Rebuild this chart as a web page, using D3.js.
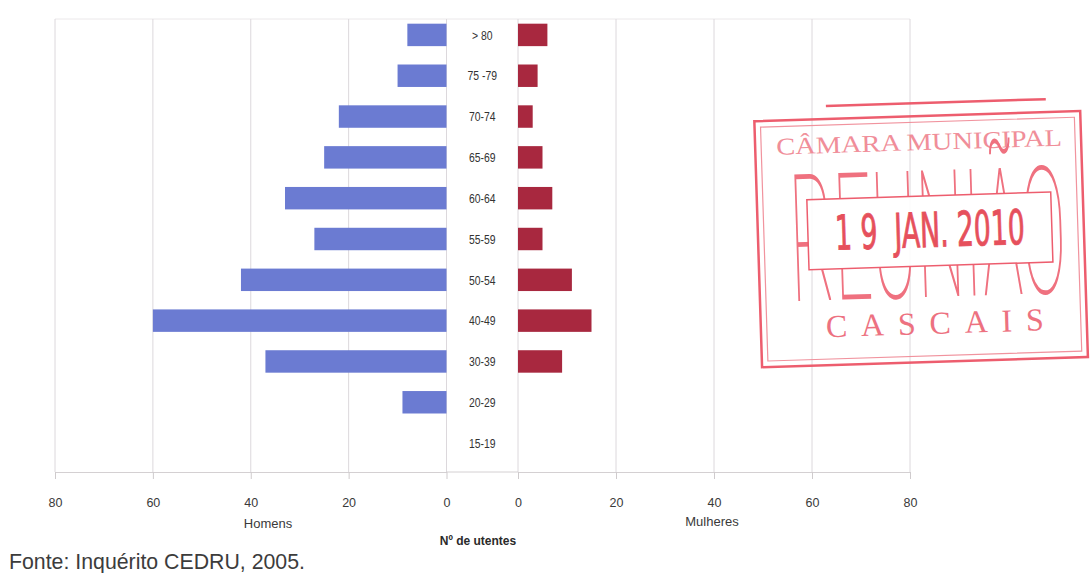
<!DOCTYPE html>
<html>
<head>
<meta charset="utf-8">
<script src="https://cdn.jsdelivr.net/npm/d3@7"></script>
<style>
  html, body { margin: 0; padding: 0; background: #fff; }
  svg { display: block; }
  .tick text { font-family: "Liberation Sans", Arial, sans-serif; font-size: 12.5px; fill: #3a3a3a; }
</style>
</head>
<body>
<svg id="chart" width="1092" height="573"></svg>
<script>
// Age groups, top to bottom
const ageGroups = ["> 80", "75 -79", "70-74", "65-69", "60-64", "55-59", "50-54", "40-49", "30-39", "20-29", "15-19"];
// Number of respondents by sex
const homens   = [8, 10, 22, 25, 33, 27, 42, 60, 37, 9, 0];
const mulheres = [6, 4, 3, 5, 7, 5, 11, 15, 9, 0, 0];
const tickValues = [0, 20, 40, 60, 80];

const svg = d3.select("#chart");

const xLeft  = d3.scaleLinear().domain([0, 80]).range([446.5, 55]);
const xRight = d3.scaleLinear().domain([0, 80]).range([518, 910]);
const y = d3.scaleBand().domain(ageGroups).range([14.5, 463.5]).paddingInner(0.45).paddingOuter(0.225);

const plotTop = 19, plotBottom = 472;
const gridColor = "#dcd8dc";

// plot frame (top edge)
svg.append("line")
  .attr("x1", xLeft(80)).attr("x2", xRight(80))
  .attr("y1", plotTop).attr("y2", plotTop)
  .attr("stroke", "#ebe8ea");

// vertical gridlines on both halves
svg.append("g").selectAll("line").data(tickValues).join("line")
  .attr("x1", d => xLeft(d)).attr("x2", d => xLeft(d))
  .attr("y1", plotTop).attr("y2", plotBottom)
  .attr("stroke", gridColor);
svg.append("g").selectAll("line").data(tickValues).join("line")
  .attr("x1", d => xRight(d)).attr("x2", d => xRight(d))
  .attr("y1", plotTop).attr("y2", plotBottom)
  .attr("stroke", gridColor);

// bars: men to the left, women to the right
svg.append("g").selectAll("rect").data(ageGroups).join("rect")
  .attr("x", (d, i) => xLeft(homens[i]))
  .attr("y", d => y(d))
  .attr("width", (d, i) => xLeft(0) - xLeft(homens[i]))
  .attr("height", y.bandwidth())
  .attr("fill", "#6b7bd2");

svg.append("g").selectAll("rect").data(ageGroups).join("rect")
  .attr("x", xRight(0))
  .attr("y", d => y(d))
  .attr("width", (d, i) => xRight(mulheres[i]) - xRight(0))
  .attr("height", y.bandwidth())
  .attr("fill", "#a8283f");

// age-group labels in the central column (narrow face)
const midX = (xLeft(0) + xRight(0)) / 2;
svg.append("g").selectAll("text").data(ageGroups).join("text")
  .attr("transform", d => `translate(${midX},${y(d) + y.bandwidth() / 2}) scale(0.8,1)`)
  .attr("dy", "0.36em")
  .attr("text-anchor", "middle")
  .style("font-family", "'Liberation Sans', Arial, sans-serif")
  .style("font-size", "13px")
  .style("fill", "#333")
  .text(d => d);

// bottom axes
const axisL = svg.append("g").attr("transform", `translate(0,${plotBottom})`)
  .call(d3.axisBottom(xLeft).tickValues(tickValues).tickSize(7).tickPadding(19).tickSizeOuter(0));
const axisR = svg.append("g").attr("transform", `translate(0,${plotBottom})`)
  .call(d3.axisBottom(xRight).tickValues(tickValues).tickSize(7).tickPadding(19).tickSizeOuter(0));
[axisL, axisR].forEach(a => {
  a.select(".domain").attr("stroke", "#d4d0d2");
  a.selectAll(".tick line").attr("stroke", "#cfcbcd");
});
// axis baseline across the label column
svg.append("line")
  .attr("x1", xLeft(0)).attr("x2", xRight(0))
  .attr("y1", plotBottom).attr("y2", plotBottom)
  .attr("stroke", "#d4d0d2");

const labelFont = "'Liberation Sans', Arial, sans-serif";
svg.append("text").attr("x", 268).attr("y", 528).attr("text-anchor", "middle")
  .style("font-family", labelFont).style("font-size", "13px").style("fill", "#3a3a3a").text("Homens");
svg.append("text").attr("x", 712).attr("y", 526).attr("text-anchor", "middle")
  .style("font-family", labelFont).style("font-size", "13px").style("fill", "#3a3a3a").text("Mulheres");
svg.append("text").attr("x", 478).attr("y", 545).attr("text-anchor", "middle")
  .style("font-family", labelFont).style("font-size", "12px").style("font-weight", "bold").style("fill", "#2a2a2a").text("Nº de utentes");
svg.append("text").attr("x", 9).attr("y", 569)
  .style("font-family", labelFont).style("font-size", "21.3px").style("fill", "#3c3c3c").text("Fonte: Inquérito CEDRU, 2005.");

// municipal reception stamp
const stampRed = "#ec5062";
const stamp = svg.append("g").attr("transform", "rotate(-1.8, 925, 235)").style("opacity", 0.92);

// text squeezed horizontally to a given width, centred on cx
function fitText(g, str, cx, baseline, width, styles) {
  const t = g.append("text").attr("text-anchor", "middle").text(str);
  Object.entries(styles).forEach(([k, v]) => t.style(k, v));
  const natural = t.node().getComputedTextLength();
  t.attr("transform", `translate(${cx},${baseline}) scale(${width / natural},1)`);
  return t;
}

stamp.append("line").attr("x1", 830).attr("y1", 103).attr("x2", 1050).attr("y2", 103)
  .attr("stroke", stampRed).attr("stroke-width", 2.5);
stamp.append("rect").attr("x", 758).attr("y", 116).attr("width", 326).attr("height", 246)
  .attr("fill", "none").attr("stroke", stampRed).attr("stroke-width", 2.5);
stamp.append("rect").attr("x", 764).attr("y", 122).attr("width", 314).attr("height", 234)
  .attr("fill", "none").attr("stroke", "#f08a96").attr("stroke-width", 1.2);
fitText(stamp, "CÂMARA MUNICIPAL", 922, 150, 286, {
  "font-family": "'Liberation Serif', 'DejaVu Serif', serif", "font-size": "24px", "fill": "#ef8591"
});
fitText(stamp, "REUNIÃO", 928, 297, 276, {
  "font-family": "Roboto, 'DejaVu Sans', sans-serif", "font-size": "178px",
  "font-weight": "100", "fill": "#ee6575"
});
stamp.append("rect").attr("x", 808).attr("y", 196).attr("width", 244).attr("height", 70)
  .attr("fill", "#fff").attr("stroke", stampRed).attr("stroke-width", 1.5);
fitText(stamp, "1 9  JAN. 2010", 930, 247, 190, {
  "font-family": "'DejaVu Sans Condensed', 'DejaVu Sans', sans-serif", "font-size": "48px",
  "fill": "#e4424f", "stroke": "#e4424f", "stroke-width": "0.9", "white-space": "pre"
});
stamp.append("text").attr("x", 932).attr("y", 334).attr("text-anchor", "middle")
  .attr("textLength", 218).attr("lengthAdjust", "spacing")
  .style("font-family", "'Liberation Serif', 'DejaVu Serif', serif").style("font-size", "32px")
  .style("fill", "#ec6676").text("CASCAIS");
</script>
</body>
</html>
